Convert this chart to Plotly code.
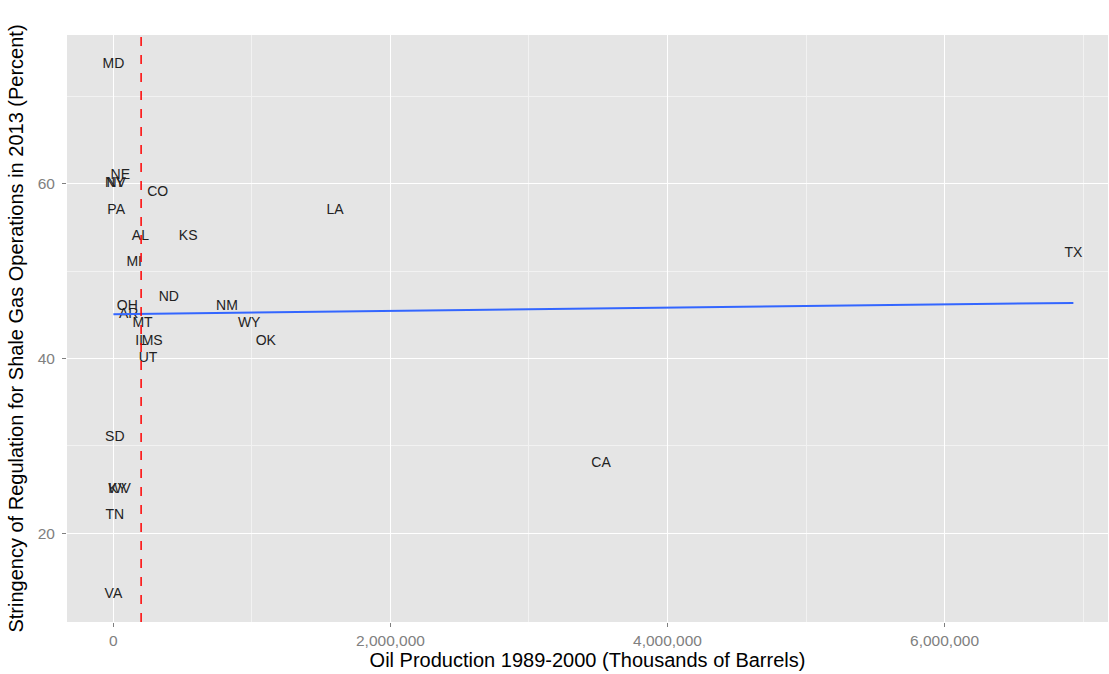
import numpy as np
import plotly.graph_objects as go

states = ["MD", "NE", "NY", "NV", "CO", "PA", "AL", "KS", "LA", "TX", "MI", "ND",
          "OH", "NM", "AR", "MT", "WY", "OK", "IL", "MS", "UT", "SD", "KY", "WV",
          "TN", "VA", "CA"]
oil_production = [0, 50000, 10000, 20000, 320000, 20000, 195000, 540000, 1600000, 6930000,
                  150000, 400000, 100000, 820000, 110000, 210000, 980000, 1100000, 200000,
                  280000, 250000, 10000, 30000, 45000, 10000, 0, 3520000]
stringency = [73.7, 61, 60, 60, 59, 57, 54, 54, 57, 52, 51, 47, 46, 46, 45, 44, 44, 42, 42,
              42, 40, 31, 25, 25, 22, 13, 28]
threshold = 200000

x_ticks = [0, 2000000, 4000000, 6000000]
y_ticks = [20, 40, 60]

# linear fit (as geom_smooth(method="lm"))
slope, intercept = np.polyfit(oil_production, stringency, 1)
fit_x = [min(oil_production), max(oil_production)]
fit_y = [intercept + slope * v for v in fit_x]

FONT = "Liberation Sans, Arial, sans-serif"

fig = go.Figure()
fig.add_trace(go.Scatter(
    x=oil_production, y=stringency, text=states, mode="text",
    textposition="middle center",
    textfont=dict(family=FONT, size=14, color="#222222"),
    showlegend=False, hoverinfo="text"))
fig.add_trace(go.Scatter(
    x=fit_x, y=fit_y, mode="lines", line=dict(color="#3366FF", width=2),
    showlegend=False, hoverinfo="skip"))
fig.add_vline(x=threshold, line=dict(color="#FF0000", width=1.5, dash="dash"), layer="above")

fig.update_layout(
    width=1109, height=674,
    margin=dict(l=67, r=1, t=35, b=52),
    paper_bgcolor="white", plot_bgcolor="#E5E5E5",
    font=dict(family=FONT),
    xaxis=dict(
        range=[-335000, 7180000], tickvals=x_ticks, tickformat=",",
        showgrid=True, gridcolor="white", gridwidth=1.2,
        minor=dict(tickvals=[1000000, 3000000, 5000000, 7000000], showgrid=True,
                   gridcolor="#F2F2F2", gridwidth=0.6, ticks=""),
        ticks="outside", ticklen=4, tickcolor="#7F7F7F", tickwidth=1,
        tickfont=dict(size=15.5, color="#808080"), zeroline=False,
        title=dict(text="Oil Production 1989-2000 (Thousands of Barrels)",
                   font=dict(size=20, color="black"), standoff=0),
    ),
    yaxis=dict(
        range=[9.85, 77.05], tickvals=y_ticks,
        showgrid=True, gridcolor="white", gridwidth=1.2,
        minor=dict(tickvals=[30, 50, 70], showgrid=True,
                   gridcolor="#F2F2F2", gridwidth=0.6, ticks=""),
        ticks="outside", ticklen=4, tickcolor="#7F7F7F", tickwidth=1,
        ticklabelstandoff=4,
        tickfont=dict(size=15.5, color="#808080"), zeroline=False,
        title=dict(text="Stringency of Regulation for Shale Gas Operations in 2013 (Percent)",
                   font=dict(size=20, color="black"), standoff=8),
    ),
)
fig.write_html("out.html", config={"displayModeBar": False},
               post_script="document.body.style.margin='0';")
